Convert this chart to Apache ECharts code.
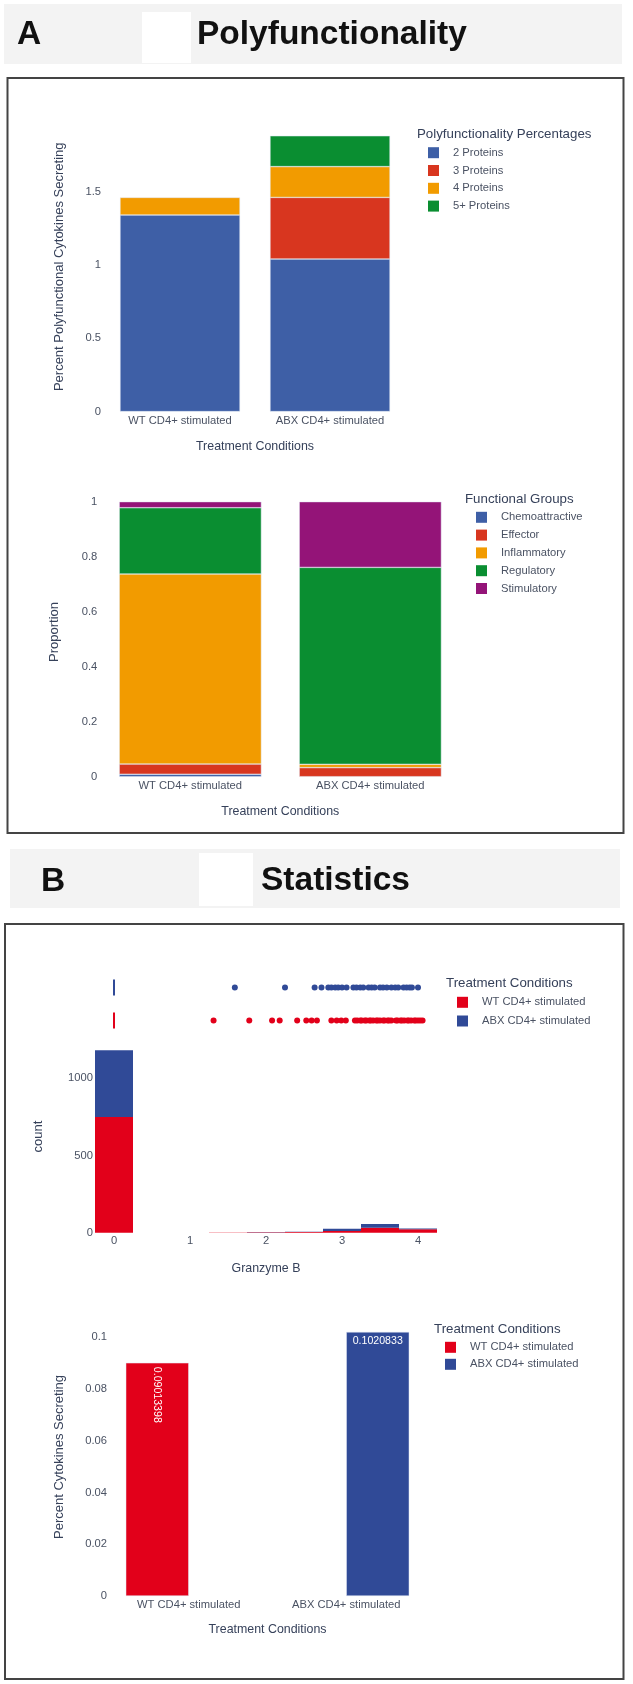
<!DOCTYPE html>
<html>
<head>
<meta charset="utf-8">
<script src="https://cdn.jsdelivr.net/npm/echarts@6/dist/echarts.min.js"></script>
<style>
  html, body { margin: 0; padding: 0; background: #fff; }
  #main { width: 633px; height: 1684px; }
</style>
</head>
<body>
<div id="main"></div>
<script>
// ---- data ----
const conditions = ['WT CD4+ stimulated', 'ABX CD4+ stimulated'];

const proteinLevels = ['2 Proteins', '3 Proteins', '4 Proteins', '5+ Proteins'];
const proteins2 = [1.34, 1.04];
const proteins3 = [null, 0.42];
const proteins4 = [0.12, 0.21];
const proteins5 = [null, 0.21];

const groupNames = ['Chemoattractive', 'Effector', 'Inflammatory', 'Regulatory', 'Stimulatory'];
const chemoattractive = [0.009, null];
const effector = [0.037, 0.033];
const inflammatory = [0.691, 0.012];
const regulatory = [0.241, 0.716];
const stimulatory = [0.022, 0.239];

const granzymeBins = ['0', '0.5', '1', '1.5', '2', '2.5', '3', '3.5', '4'];
const wtCounts = [750, 0, 0, 1, 3, 5, 11, 32, 22];
const abxCounts = [432, 0, 0, 1, 2, 1, 15, 24, 6];

const wtOutliers = [1.31, 1.78, 2.08, 2.18, 2.41, 2.53, 2.6, 2.67, 2.86, 2.93, 2.99, 3.05,
  3.17, 3.2, 3.24, 3.26, 3.3, 3.32, 3.36, 3.38, 3.41, 3.45, 3.47, 3.5, 3.54, 3.56, 3.6,
  3.62, 3.65, 3.71, 3.73, 3.77, 3.79, 3.82, 3.86, 3.88, 3.91, 3.95, 3.97, 4.0, 4.03, 4.06];
const abxOutliers = [1.59, 2.25, 2.64, 2.73, 2.82, 2.86, 2.91, 2.95, 3.0, 3.06, 3.15, 3.19,
  3.24, 3.28, 3.35, 3.39, 3.43, 3.5, 3.54, 3.59, 3.65, 3.7, 3.74, 3.81, 3.85, 3.89, 3.92, 4.0];

const cytokinePercent = [0.09013398, 0.1020833];

// ---- styles ----
const FONT = "'Liberation Sans', Arial, sans-serif";
const TITLE_C = '#36415a';
const TICK_C = '#4a5263';
const polyColors = ['#3e5fa6', '#d8361f', '#f29b00', '#0a8e31'];
const groupColors = ['#3e5fa6', '#d8361f', '#f29b00', '#0a8e31', '#941478'];
const RED = '#e2001a';
const BLUE = '#304a97';
const EDGE = '#e3e9f4';

function tickFmt(step) {
  return function (v) {
    const k = Math.round(v / step);
    return Math.abs(v - k * step) < step * 1e-6 ? String(+(k * step).toFixed(6)) : '';
  };
}

function valueAxis(idx, max, step, name, gap, margin) {
  return {
    type: 'value', gridIndex: idx, min: 0, max: max, interval: step,
    axisLine: { show: false }, axisTick: { show: false }, splitLine: { show: false },
    axisLabel: { formatter: tickFmt(step), color: TICK_C, fontFamily: FONT, fontSize: 11.2, margin: margin },
    name: name, nameLocation: 'middle', nameRotate: 90, nameGap: gap,
    nameTextStyle: { color: TITLE_C, fontFamily: FONT, fontSize: 13 }
  };
}

function catAxis(idx, data, name, gap, margin) {
  return {
    type: 'category', gridIndex: idx, data: data,
    axisLine: { show: false }, axisTick: { show: false }, splitLine: { show: false },
    axisLabel: { color: TICK_C, fontFamily: FONT, fontSize: 11.2, margin: margin, interval: 0 },
    name: name, nameLocation: 'middle', nameGap: gap,
    nameTextStyle: { color: TITLE_C, fontFamily: FONT, fontSize: 12.4 }
  };
}

function legendBox(names, left, top, gap) {
  return {
    data: names, orient: 'vertical', left: left, top: top, padding: 0,
    itemWidth: 11, itemHeight: 11, itemGap: gap, icon: 'rect', selectedMode: false,
    itemStyle: { borderWidth: 0 },
    textStyle: { color: TICK_C, fontFamily: FONT, fontSize: 11.2, lineHeight: 14, padding: [0, 0, 0, 9] }
  };
}

function legendTitle(text, x, y) {
  return {
    type: 'text', x: x, y: y,
    style: { text: text, fill: TITLE_C, font: "13.3px " + FONT, verticalAlign: 'middle' }
  };
}

const chart = echarts.init(document.getElementById('main'), null, { renderer: 'canvas' });

const polyData = [proteins2, proteins3, proteins4, proteins5];
const groupData = [chemoattractive, effector, inflammatory, regulatory, stimulatory];

const series = [];

proteinLevels.forEach(function (name, i) {
  series.push({
    type: 'bar', name: name, stack: 'poly', xAxisIndex: 0, yAxisIndex: 0,
    barCategoryGap: '20%', data: polyData[i],
    itemStyle: { color: polyColors[i], borderColor: EDGE, borderWidth: 0.5 }
  });
});

groupNames.forEach(function (name, i) {
  series.push({
    type: 'bar', name: name, stack: 'group', xAxisIndex: 1, yAxisIndex: 1,
    barCategoryGap: '21%', data: groupData[i],
    itemStyle: { color: groupColors[i], borderColor: EDGE, borderWidth: 0.5 }
  });
});

series.push({
  type: 'bar', name: conditions[0], stack: 'hist', xAxisIndex: 2, yAxisIndex: 2,
  barCategoryGap: '0%', data: wtCounts, itemStyle: { color: RED }
});
series.push({
  type: 'bar', name: conditions[1], stack: 'hist', xAxisIndex: 2, yAxisIndex: 2,
  barCategoryGap: '0%', data: abxCounts, itemStyle: { color: BLUE }
});

// marginal box: every value except the outliers sits at 0
series.push({
  type: 'boxplot', xAxisIndex: 3, yAxisIndex: 3, boxWidth: [16, 16],
  data: [
    { value: [0, 0, 0, 0, 0], itemStyle: { borderColor: RED, color: RED, borderWidth: 2 } },
    { value: [0, 0, 0, 0, 0], itemStyle: { borderColor: BLUE, color: BLUE, borderWidth: 2 } }
  ]
});
series.push({
  type: 'scatter', name: conditions[0], xAxisIndex: 3, yAxisIndex: 3, symbolSize: 6,
  data: wtOutliers.map(function (v) { return [v, 0]; }), itemStyle: { color: RED, opacity: 1 }
});
series.push({
  type: 'scatter', name: conditions[1], xAxisIndex: 3, yAxisIndex: 3, symbolSize: 6,
  data: abxOutliers.map(function (v) { return [v, 1]; }), itemStyle: { color: BLUE, opacity: 1 }
});

const barLabel = { show: true, color: '#fff', fontFamily: FONT, fontSize: 10.6, position: 'insideTop', distance: 4 };
series.push({
  type: 'bar', name: conditions[0], xAxisIndex: 4, yAxisIndex: 4, barGap: '0%', barCategoryGap: '20%',
  data: [cytokinePercent[0], '-'],
  itemStyle: { color: RED, borderColor: EDGE, borderWidth: 0.5 },
  label: Object.assign({}, barLabel, { rotate: -90, align: 'left', verticalAlign: 'middle', formatter: function (p) { return String(p.value); } })
});
series.push({
  type: 'bar', name: conditions[1], xAxisIndex: 4, yAxisIndex: 4, barGap: '0%', barCategoryGap: '20%',
  data: ['-', cytokinePercent[1]],
  itemStyle: { color: BLUE, borderColor: EDGE, borderWidth: 0.5 },
  label: Object.assign({}, barLabel, { formatter: function (p) { return String(p.value); } })
});

const histX = catAxis(2, granzymeBins, 'Granzyme B', 30, 3);
histX.axisLabel.interval = 1;

const HEAD_FONT = "bold 33.5px 'Liberation Sans', Arial, sans-serif";

const option = {
  animation: false,
  backgroundColor: '#fff',
  grid: [
    { left: 105, top: 122, width: 300, height: 289.6, outerBoundsMode: 'none' },
    { left: 100.3, top: 487.2, width: 360, height: 289.5, outerBoundsMode: 'none' },
    { left: 95, top: 1040.6, width: 342, height: 192.1, outerBoundsMode: 'none' },
    { left: 95, top: 971, width: 342, height: 66, outerBoundsMode: 'none' },
    { left: 110, top: 1318, width: 315, height: 278, outerBoundsMode: 'none' }
  ],
  xAxis: [
    catAxis(0, conditions, 'Treatment Conditions', 29, 4),
    catAxis(1, conditions, 'Treatment Conditions', 29, 4),
    histX,
    { type: 'value', gridIndex: 3, min: -0.25, max: 4.25, show: false },
    catAxis(4, conditions, 'Treatment Conditions', 28, 3)
  ],
  yAxis: [
    valueAxis(0, 1.974, 0.5, 'Percent Polyfunctional Cytokines Secreting', 39, 4),
    valueAxis(1, 1.0526, 0.2, 'Proportion', 39, 3),
    valueAxis(2, 1244, 500, 'count', 50, 2),
    { type: 'category', gridIndex: 3, data: conditions, show: false },
    valueAxis(4, 0.10746, 0.02, 'Percent Cytokines Secreting', 44, 3)
  ],
  legend: [
    legendBox(proteinLevels, 428, 145.7, 3.8),
    legendBox(groupNames, 476, 510.3, 3.8),
    legendBox(conditions, 457, 995.3, 4.7),
    legendBox(conditions, 445, 1340.3, 3)
  ],
  graphic: [
    { type: 'rect', shape: { x: 4, y: 4, width: 618, height: 60 }, style: { fill: '#f3f3f3' } },
    { type: 'rect', shape: { x: 142, y: 12, width: 49, height: 51 }, style: { fill: '#fff' } },
    { type: 'text', x: 17, y: 34.5, style: { text: 'A', fill: '#111', font: HEAD_FONT, verticalAlign: 'middle' } },
    { type: 'text', x: 197, y: 34.5, style: { text: 'Polyfunctionality', fill: '#111', font: HEAD_FONT, verticalAlign: 'middle' } },
    { type: 'rect', shape: { x: 7.5, y: 78, width: 616, height: 755 }, style: { fill: 'none', stroke: '#444', lineWidth: 2 } },
    { type: 'rect', shape: { x: 10, y: 849, width: 610, height: 59 }, style: { fill: '#f3f3f3' } },
    { type: 'rect', shape: { x: 199, y: 853, width: 54, height: 53 }, style: { fill: '#fff' } },
    { type: 'text', x: 41, y: 881.5, style: { text: 'B', fill: '#111', font: HEAD_FONT, verticalAlign: 'middle' } },
    { type: 'text', x: 261, y: 881, style: { text: 'Statistics', fill: '#111', font: HEAD_FONT, verticalAlign: 'middle' } },
    { type: 'rect', shape: { x: 5, y: 924, width: 618.5, height: 755 }, style: { fill: 'none', stroke: '#444', lineWidth: 2 } },
    legendTitle('Polyfunctionality Percentages', 417, 134),
    legendTitle('Functional Groups', 465, 499),
    legendTitle('Treatment Conditions', 446, 983.3),
    legendTitle('Treatment Conditions', 434, 1329.3)
  ],
  series: series
};

chart.setOption(option);
</script>
</body>
</html>
